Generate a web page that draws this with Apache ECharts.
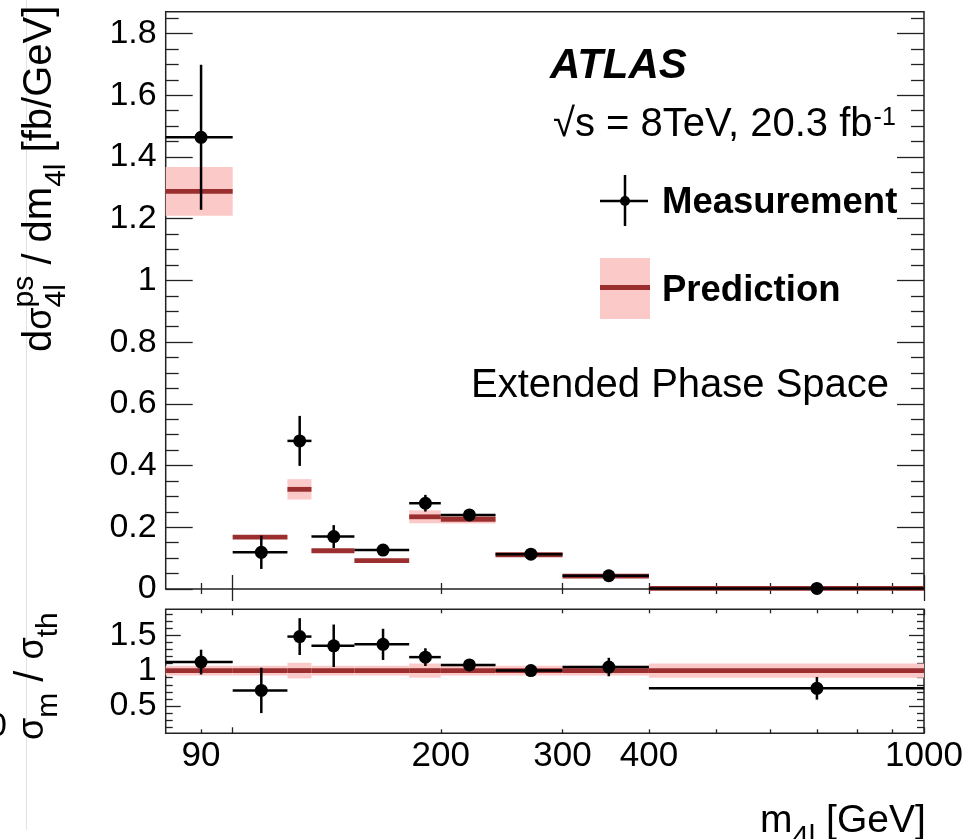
<!DOCTYPE html>
<html>
<head>
<meta charset="utf-8">
<script src="https://cdn.jsdelivr.net/npm/echarts@6/dist/echarts.min.js"></script>
<style>
html, body { margin: 0; padding: 0; background: #fff; }
#chart { width: 967px; height: 839px; }
</style>
</head>
<body>
<div id="chart"></div>
<script>
// m4l bins [GeV]
const binEdges = [80, 100, 120, 130, 150, 180, 200, 240, 300, 400, 1000];
const binCentres = [90, 110, 125, 140, 165, 190, 220, 270, 350, 700];
// measured dsigma/dm4l [fb/GeV]
const measValues = [1.464, 0.119, 0.480, 0.170, 0.126, 0.278, 0.240, 0.113, 0.043, 0.002];
const measErrors = [0.235, 0.054, 0.081, 0.037, 0.015, 0.027, 0.012, 0.008, 0.004, 0.001];
// prediction + half width of its band
const predValues = [1.289, 0.168, 0.323, 0.124, 0.092, 0.234, 0.226, 0.111, 0.042, 0.002];
const predErrors = [0.079, 0.006, 0.033, 0.006, 0.006, 0.021, 0.014, 0.006, 0.003, 0.001];
// ratio panel sigma_m / sigma_th
const ratioValues = [1.12, 0.72, 1.48, 1.35, 1.37, 1.19, 1.08, 1.00, 1.05, 0.75];
const ratioErrors = [0.175, 0.32, 0.26, 0.30, 0.22, 0.125, 0.04, 0.03, 0.13, 0.16];
const ratioBand = [0.07, 0.07, 0.11, 0.07, 0.07, 0.10, 0.07, 0.07, 0.07, 0.10];
// tick labels
const mainYLabels = [0, 0.2, 0.4, 0.6, 0.8, 1, 1.2, 1.4, 1.6, 1.8];
const ratioYLabels = [0.5, 1, 1.5];
const massLabels = [90, 200, 300, 400, 1000];
const massMajorTicks = [100, 1000];
const massMinorTicks = [90, 200, 300, 400, 500, 600, 700, 800, 900];

const FONT = '"Liberation Sans", Arial, Helvetica, sans-serif';
const RED = '#9b2f2f';
const PINK = '#fcc9c9';
const FRAME = '#222';
const log = Math.log10;

const mainMinor = [];
for (let k = 1; k <= 37; k++) if (k % 4) mainMinor.push(+(k * 0.05).toFixed(2));
const ratioMinor = [];
for (let k = 2; k <= 18; k++) if (k % 5) ratioMinor.push(+(k * 0.1).toFixed(1));

const MAIN_Y = [0, 1.871];
const RATIO_Y = [0.115, 1.865];
const MASS_X = [log(80), 3];

function xAx(grid, pos, ticks, len, labels) {
  return {
    type: 'value', gridIndex: grid, position: pos, min: MASS_X[0], max: MASS_X[1],
    axisLine: { show: false }, splitLine: { show: false },
    axisTick: { show: true, inside: true, length: len, customValues: ticks.map(log),
      lineStyle: { color: FRAME, width: 1.3 } },
    axisLabel: labels ? {
      show: true, customValues: labels.map(log), margin: 6,
      formatter: v => String(Math.round(Math.pow(10, v))),
      fontSize: 35, color: '#000', fontFamily: FONT
    } : { show: false }
  };
}
function yAx(grid, pos, range, ticks, len, labels) {
  return {
    type: 'value', gridIndex: grid, position: pos, min: range[0], max: range[1],
    axisLine: { show: false }, splitLine: { show: false },
    axisTick: { show: true, inside: true, length: len, customValues: ticks,
      lineStyle: { color: FRAME, width: 1.3 } },
    axisLabel: labels ? {
      show: true, customValues: labels, margin: 9,
      formatter: v => String(+(+v).toFixed(1)),
      fontSize: 34, color: '#000', fontFamily: FONT
    } : { show: false }
  };
}

const xAxes = [
  xAx(0, 'bottom', massMajorTicks, 14), xAx(0, 'bottom', massMinorTicks, 6),
  xAx(0, 'top', massMajorTicks, 12), xAx(0, 'top', massMinorTicks, 5),
  xAx(1, 'bottom', massMajorTicks, 6, massLabels), xAx(1, 'bottom', massMinorTicks, 4),
  xAx(1, 'top', massMajorTicks, 6), xAx(1, 'top', massMinorTicks, 4)
];
const yAxes = [
  yAx(0, 'left', MAIN_Y, mainYLabels, 27, mainYLabels), yAx(0, 'left', MAIN_Y, mainMinor, 13),
  yAx(0, 'right', MAIN_Y, mainYLabels, 27), yAx(0, 'right', MAIN_Y, mainMinor, 13),
  yAx(1, 'left', RATIO_Y, ratioYLabels, 15, ratioYLabels), yAx(1, 'left', RATIO_Y, ratioMinor, 7),
  yAx(1, 'right', RATIO_Y, ratioYLabels, 15), yAx(1, 'right', RATIO_Y, ratioMinor, 7)
];

function bandSeries(ax, centre, half) {
  return {
    type: 'custom', xAxisIndex: ax, yAxisIndex: ax, silent: true,
    data: centre.map((c, i) => [log(binEdges[i]), log(binEdges[i + 1]), c - half[i], c + half[i]]),
    encode: { x: [0, 1], y: [2, 3] },
    renderItem: (params, api) => {
      const a = api.coord([api.value(0), api.value(3)]);
      const b = api.coord([api.value(1), api.value(2)]);
      return { type: 'rect', shape: { x: a[0], y: a[1], width: b[0] - a[0], height: b[1] - a[1] },
        style: { fill: PINK } };
    }
  };
}
function predSeries(ax, centre) {
  return {
    type: 'custom', xAxisIndex: ax, yAxisIndex: ax, silent: true,
    data: centre.map((c, i) => [log(binEdges[i]), log(binEdges[i + 1]), c]),
    encode: { x: [0, 1], y: 2 },
    renderItem: (params, api) => {
      const a = api.coord([api.value(0), api.value(2)]);
      const b = api.coord([api.value(1), api.value(2)]);
      return { type: 'rect', shape: { x: a[0], y: a[1] - 2.4, width: b[0] - a[0], height: 4.8 },
        style: { fill: RED } };
    }
  };
}
function measSeries(ax, vals, errs) {
  return {
    type: 'custom', xAxisIndex: ax, yAxisIndex: ax, silent: true,
    data: vals.map((v, i) => [log(binEdges[i]), log(binEdges[i + 1]), log(binCentres[i]), v, errs[i]]),
    encode: { x: [0, 1, 2], y: 3 },
    renderItem: (params, api) => {
      const v = api.value(3), e = api.value(4);
      const l = api.coord([api.value(0), v]);
      const r = api.coord([api.value(1), v]);
      const c = api.coord([api.value(2), v]);
      const hi = api.coord([api.value(2), v + e]);
      const lo = api.coord([api.value(2), v - e]);
      const ls = { stroke: '#000', lineWidth: 2.5 };
      return { type: 'group', children: [
        { type: 'line', shape: { x1: l[0], y1: l[1], x2: r[0], y2: r[1] }, style: ls },
        { type: 'line', shape: { x1: c[0], y1: hi[1], x2: c[0], y2: lo[1] }, style: ls },
        { type: 'circle', shape: { cx: c[0], cy: c[1], r: 6.5 }, style: { fill: '#000' } }
      ] };
    }
  };
}

const ratioOne = binCentres.map(() => 1);

// text with sub/superscripts along a baseline
const mctx = document.createElement('canvas').getContext('2d');
function latex(pieces, F, x0, y0, rot) {
  let pos = 0;
  const kids = [];
  pieces.forEach(p => {
    const size = F * (p.s || 1);
    const font = size + 'px ' + FONT;
    mctx.font = font;
    const w = mctx.measureText(p.t).width;
    const shift = p.up ? -0.45 * F : p.down ? 0.36 * F : 0;
    kids.push({ type: 'text', x: pos, y: shift - 0.31 * size,
      style: { text: p.t, font: font, fill: '#000', align: 'left', textAlign: 'left',
        verticalAlign: 'middle', textVerticalAlign: 'middle' } });
    if (!p.hold) pos += (p.adv != null ? p.adv * size : w);
  });
  return { type: 'group', x: x0, y: y0, rotation: rot, children: kids };
}
function txt(x, y, t, font, align) {
  return { type: 'text', x: x, y: y, style: { text: t, font: font, fill: '#000',
    align: align || 'left', textAlign: align || 'left', verticalAlign: 'middle', textVerticalAlign: 'middle' } };
}

mctx.font = '40px ' + FONT;
const cmsWidth = mctx.measureText('\u221As = 8TeV, 20.3 fb').width;

const graphics = [
  { type: 'line', shape: { x1: 26.5, y1: 0, x2: 26.5, y2: 830 }, style: { stroke: '#e2e2e2', lineWidth: 1 } },
  txt(-12, 727, '0', '34px ' + FONT),
  latex([
    { t: 'd' }, { t: '\u03C3', s: 0.9 }, { t: 'ps', s: 0.75, up: true, hold: true },
    { t: '4l', s: 0.75, down: true, adv: 1.06 }, { t: ' / dm' }, { t: '4l', s: 0.75, down: true },
    { t: ' [fb/GeV]' }
  ], 40, 52, 352, Math.PI / 2),
  latex([
    { t: '\u03C3', s: 0.9 }, { t: 'm', s: 0.75, down: true }, { t: ' / ' },
    { t: '\u03C3', s: 0.9 }, { t: 'th', s: 0.75, down: true }
  ], 40, 44, 740, Math.PI / 2),
  latex([{ t: 'm' }, { t: '4l', s: 0.75, down: true }, { t: ' [GeV]' }], 39, 760, 833, 0),
  txt(550, 66, 'ATLAS', 'italic bold 42px ' + FONT),
  txt(553, 125, '\u221As = 8TeV, 20.3 fb', '40px ' + FONT),
  txt(553 + cmsWidth + 1, 118, '-1', '25px ' + FONT),
  // legend
  { type: 'line', shape: { x1: 600, y1: 201, x2: 648, y2: 201 }, style: { stroke: '#000', lineWidth: 2.5 } },
  { type: 'line', shape: { x1: 625, y1: 175, x2: 625, y2: 226 }, style: { stroke: '#000', lineWidth: 2.5 } },
  { type: 'circle', shape: { cx: 625, cy: 201, r: 5 }, style: { fill: '#000' } },
  txt(662, 203, 'Measurement', 'bold 36.5px ' + FONT),
  { type: 'rect', shape: { x: 600, y: 258, width: 50, height: 61 }, style: { fill: PINK } },
  { type: 'rect', shape: { x: 600, y: 285, width: 50, height: 5 }, style: { fill: RED } },
  txt(662, 291, 'Prediction', 'bold 36.5px ' + FONT),
  txt(471, 386, 'Extended Phase Space', '40px ' + FONT)
];

const chart = echarts.init(document.getElementById('chart'), null, { renderer: 'canvas' });
chart.setOption({
  animation: false,
  backgroundColor: '#fff',
  grid: [
    { left: 165.7, top: 11.7, width: 758.3, height: 577.3, show: true, borderColor: FRAME, borderWidth: 1.5,
      backgroundColor: 'transparent', containLabel: false, outerBoundsMode: 'none' },
    { left: 165.7, top: 609.3, width: 758.3, height: 124, show: true, borderColor: FRAME, borderWidth: 1.5,
      backgroundColor: 'transparent', containLabel: false, outerBoundsMode: 'none' }
  ],
  xAxis: xAxes,
  yAxis: yAxes,
  series: [
    bandSeries(0, predValues, predErrors),
    predSeries(0, predValues),
    measSeries(0, measValues, measErrors),
    bandSeries(4, ratioOne, ratioBand),
    predSeries(4, ratioOne),
    measSeries(4, ratioValues, ratioErrors)
  ],
  graphic: graphics
});
</script>
</body>
</html>
